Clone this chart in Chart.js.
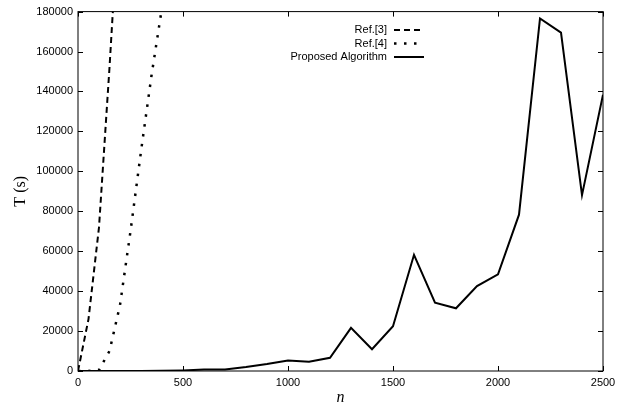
<!DOCTYPE html>
<html>
<head>
<meta charset="utf-8">
<script src="https://cdn.jsdelivr.net/npm/chart.js@4/dist/chart.umd.min.js"></script>
<style>
  html, body { margin: 0; padding: 0; background: #fff; }
  #wrap { width: 627px; height: 407px; }
</style>
</head>
<body>
<div id="wrap"><canvas id="c" width="627" height="407"></canvas></div>
<script>
// values
var ref3N = [0, 50, 100, 150, 200];
var ref3T = [0, 26000, 72000, 152000, 240000];

var ref4N = [0, 50, 100, 150, 200, 250, 300, 350, 400];
var ref4T = [0, 0, 500, 10000, 33000, 70000, 110000, 148000, 182000];

var propN = [0, 100, 200, 300, 400, 500, 600, 700, 800, 900, 1000, 1100, 1200, 1300,
             1400, 1500, 1600, 1700, 1800, 1900, 2000, 2100, 2200, 2300, 2400, 2500];
var propT = [0, 0, 0, 50, 100, 300, 700, 800, 2000, 3500, 5300, 4600, 6600, 21600,
             10900, 22400, 58200, 34200, 31400, 42500, 48400, 78300, 176600, 169500, 88100, 138400];

var legendLabels = ['Ref.[3]', 'Ref.[4]', 'Proposed Algorithm'];

function pts(xs, ys){
  return xs.map(function(x, i){ return {x: x, y: ys[i]}; });
}

// gnuplot style box: frame, inward ticks on all four sides, legend inside
var framePlugin = {
  id: 'frame',
  afterDraw: function(chart){
    var ctx = chart.ctx, a = chart.chartArea;
    var xs = chart.scales.x, ys = chart.scales.y;
    ctx.save();
    ctx.strokeStyle = '#000';
    ctx.lineWidth = 1;
    ctx.strokeRect(a.left, a.top, a.right - a.left, a.bottom - a.top);
    ctx.beginPath();
    xs.ticks.forEach(function(t){
      var px = Math.round(xs.getPixelForValue(t.value)) + 0.5;
      ctx.moveTo(px, a.bottom); ctx.lineTo(px, a.bottom - 5);
      ctx.moveTo(px, a.top); ctx.lineTo(px, a.top + 5);
    });
    ys.ticks.forEach(function(t){
      var py = Math.round(ys.getPixelForValue(t.value)) + 0.5;
      ctx.moveTo(a.left, py); ctx.lineTo(a.left + 5, py);
      ctx.moveTo(a.right, py); ctx.lineTo(a.right - 5, py);
    });
    ctx.stroke();

    // legend
    ctx.font = '11px "Liberation Sans", Arial, sans-serif';
    ctx.fillStyle = '#000';
    ctx.textAlign = 'right';
    ctx.textBaseline = 'middle';
    chart.data.datasets.forEach(function(ds, i){
      var y = 30 + i * 13.5;
      ctx.fillText(legendLabels[i], 387, y);
      ctx.beginPath();
      ctx.lineWidth = ds.borderWidth;
      ctx.setLineDash(ds.borderDash || []);
      ctx.moveTo(394, y); ctx.lineTo(424, y);
      ctx.stroke();
    });
    ctx.restore();
  }
};

var tickFont = { family: '"Liberation Sans", Arial, sans-serif', size: 11 };
function plain(v){ return String(v); }

new Chart(document.getElementById('c'), {
  type: 'line',
  data: {
    datasets: [{
      label: legendLabels[0],
      data: pts(ref3N, ref3T),
      borderColor: '#000',
      borderWidth: 2,
      borderDash: [6, 4],
      pointRadius: 0,
      tension: 0
    }, {
      label: legendLabels[1],
      data: pts(ref4N, ref4T),
      borderColor: '#000',
      borderWidth: 2.5,
      borderDash: [2.5, 7.5],
      pointRadius: 0,
      tension: 0
    }, {
      label: legendLabels[2],
      data: pts(propN, propT),
      borderColor: '#000',
      borderWidth: 2,
      pointRadius: 0,
      tension: 0
    }]
  },
  options: {
    responsive: false,
    animation: false,
    layout: { padding: { left: 0, right: 24, top: 10, bottom: 0 } },
    plugins: { legend: { display: false }, tooltip: { enabled: false } },
    scales: {
      x: {
        type: 'linear',
        min: 0, max: 2500,
        grid: { display: false, drawTicks: false },
        border: { display: false },
        ticks: { stepSize: 500, color: '#000', padding: 5, font: tickFont, callback: plain },
        title: { display: true, text: 'n', color: '#000', padding: { top: 4, bottom: 0 },
                 font: { family: '"Liberation Serif", "Times New Roman", serif', size: 16, style: 'italic' } },
        afterFit: function(s){ s.height = 36; }
      },
      y: {
        min: 0, max: 180000,
        grid: { display: false, drawTicks: false },
        border: { display: false },
        ticks: { stepSize: 20000, color: '#000', padding: 5, font: tickFont, callback: plain },
        title: { display: true, text: 'T (s)', color: '#000', padding: { top: 11, bottom: 0 },
                 font: { family: '"Liberation Serif", "Times New Roman", serif', size: 16 } },
        afterFit: function(s){ s.width = 78; }
      }
    }
  },
  plugins: [framePlugin]
});
</script>
</body>
</html>
